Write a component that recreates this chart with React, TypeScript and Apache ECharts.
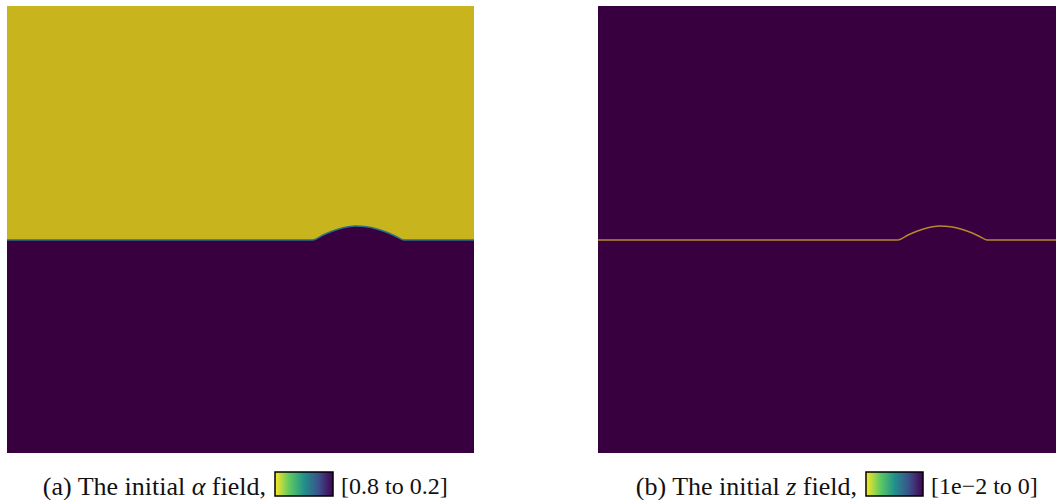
import React, { useEffect, useRef } from "react";
import * as echarts from "echarts";

// Interface (x, y) in unit-square fractions of the domain
const interfaceX = [0, 0.655, 0.677, 0.699, 0.72, 0.745, 0.77, 0.792, 0.813, 0.834, 0.849, 1];
const interfaceY = [0.4765, 0.4765, 0.4877, 0.4973, 0.504, 0.5078, 0.5063, 0.5011, 0.4937, 0.4839, 0.4765, 0.4765];

const captionA = ["(a) The initial ", "α", " field,", "[0.8 to 0.2]"];
const captionB = ["(b) The initial ", "z", " field,", "[1e\u22122 to 0]"];

const YELLOW = "#c8b41d";
const PURPLE = "#390040";
const FONT = "Liberation Serif";

export default function App() {
  const ref = useRef<HTMLDivElement>(null);
  useEffect(() => {
    if (!ref.current) return;
    const chart = echarts.init(ref.current, undefined, { renderer: "svg" });
    const pts = interfaceX.map((x, i) => [x, interfaceY[i]]);
    const axisX = (gi: number) => ({
      type: "value" as const, gridIndex: gi, min: 0, max: 1, show: false,
    });
    const axisY = (gi: number) => ({
      type: "value" as const, gridIndex: gi, min: 0, max: 1, show: false,
    });
    const gradient = new echarts.graphic.LinearGradient(0, 0, 1, 0, [
      { offset: 0, color: "#fde725" },
      { offset: 0.25, color: "#5ec962" },
      { offset: 0.5, color: "#21918c" },
      { offset: 0.75, color: "#3b528b" },
      { offset: 1, color: "#440154" },
    ]);
    const caption = (parts: string[], barX: number, barW: number, id: string) => {
      return {
        type: "group",
        id,
        children: [
          {
            type: "text",
            x: barX - 9,
            y: 486,
            style: {
              text: `${parts[0]}{i|${parts[1]}}${parts[2]}`,
              fontFamily: FONT,
              fontSize: 26,
              fill: "#111",
              align: "right",
              verticalAlign: "middle",
              rich: { i: { fontStyle: "italic", fontFamily: FONT, fontSize: 26, fill: "#111" } },
            },
          },
          {
            type: "rect",
            shape: { x: barX, y: 472, width: barW, height: 24 },
            style: { fill: gradient, stroke: "#000", lineWidth: 1.5 },
          },
          {
            type: "text",
            x: barX + barW + 8,
            y: 486,
            style: {
              text: parts[3],
              fontFamily: FONT,
              fontSize: 24,
              fill: "#111",
              align: "left",
              verticalAlign: "middle",
            },
          },
        ],
      };
    };
    chart.setOption({
      animation: false,
      grid: [
        { left: 7, top: 6, width: 467, height: 447, show: true, backgroundColor: YELLOW, borderWidth: 0 },
        { left: 598, top: 6, width: 467, height: 447, show: true, backgroundColor: PURPLE, borderWidth: 0 },
      ],
      xAxis: [axisX(0), axisX(1)],
      yAxis: [axisY(0), axisY(1)],
      series: [
        {
          type: "line",
          xAxisIndex: 0,
          yAxisIndex: 0,
          data: pts,
          smooth: 0.2,
          symbol: "none",
          lineStyle: { color: "#2c6f86", width: 1.5 },
          areaStyle: { color: PURPLE, opacity: 1, origin: "start" },
        },
        {
          type: "line",
          xAxisIndex: 1,
          yAxisIndex: 1,
          data: pts,
          smooth: 0.2,
          symbol: "none",
          lineStyle: { color: "#b4882c", width: 1.5 },
        },
      ],
      graphic: [
        caption(captionA, 275, 58, "capA"),
        caption(captionB, 866, 57, "capB"),
      ],
    });
    return () => chart.dispose();
  }, []);
  return (
    <div
      ref={ref}
      style={{ position: "absolute", left: 0, top: 0, width: 1056, height: 500 }}
    />
  );
}
